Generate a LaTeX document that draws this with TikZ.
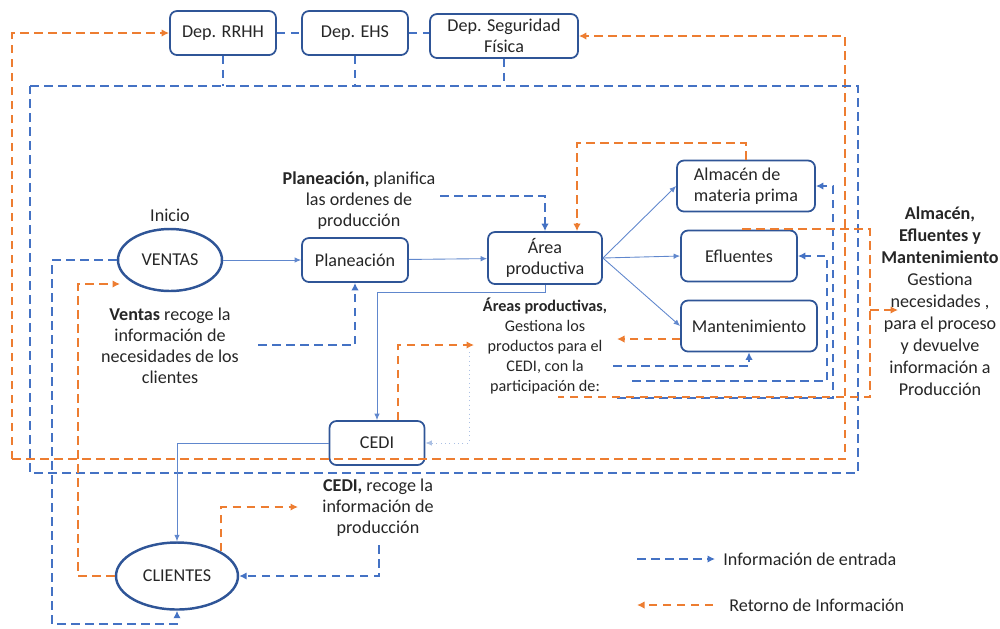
\documentclass[tikz,border=0pt]{standalone}
\usepackage{fontspec}
\setmainfont{Carlito}
\usetikzlibrary{arrows.meta,shapes.geometric}
\definecolor{azul}{HTML}{4472C4}
\definecolor{azulosc}{HTML}{2F5597}
\definecolor{naranja}{HTML}{ED7D31}
\definecolor{texto}{HTML}{262626}
\tikzset{
  caja/.style={draw=azulosc, line width=1pt, rounded corners=1.4mm, align=center,
    minimum height=8.8mm, inner sep=0.5mm, text=texto},
  elipse/.style={ellipse, draw=azulosc, line width=1.4pt, inner sep=0pt, text=texto},
  nota/.style={align=center, text=texto, inner sep=0pt},
  flujo/.style={azul!85, line width=0.5pt, -{Latex[length=1.3mm,width=1.1mm]}},
  entrada/.style={azul, line width=1.3pt, dash pattern=on 1.7mm off 1.1mm},
  retorno/.style={naranja, line width=1.3pt, dash pattern=on 1.7mm off 1.1mm},
  punta/.style={-{Latex[length=1.5mm,width=1.5mm]}},
}
\begin{document}
\begin{tikzpicture}[x=0.2mm, y=-0.2mm, font=\fontsize{10.3}{12}\selectfont]
  \useasboundingbox (0,0) rectangle (1000,628);
  % departamentos
  \node[caja, minimum width=21.2mm] (rrhh) at (223,33) {Dep. RRHH};
  \node[caja, minimum width=21.2mm] (ehs) at (355,33) {Dep. EHS};
  \node[caja, minimum width=29.6mm] (seguridad) at (504,36) {Dep. Seguridad\\Física};
  % flujo principal
  \node[elipse, minimum width=20.8mm, minimum height=12.4mm] (ventas) at (170,260) {VENTAS};
  \node[nota] (inicio) at (170,215) {Inicio};
  \node[caja, minimum width=21.2mm] (planeacion) at (355,260) {Planeación};
  \node[caja, minimum width=22.8mm, minimum height=10.4mm] (area) at (545,258) {Área\\productiva};
  \node[caja, minimum width=27.6mm, minimum height=10.2mm, align=left] (almacen) at (746,186) {Almacén de\\materia prima};
  \node[caja, minimum width=23.2mm, minimum height=10.2mm] (efluentes) at (739,256) {Efluentes};
  \node[caja, minimum width=27.2mm, minimum height=10.2mm] (manto) at (749,326) {Mantenimiento};
  \node[caja, minimum width=19mm] (cedi) at (377,443) {CEDI};
  \node[elipse, minimum width=24.4mm, minimum height=13.4mm] (clientes) at (177,576) {CLIENTES};
  % textos
  \node[nota] (txtplan) at (359,201) {\textbf{Planeación,} planifica\\las ordenes de\\producción};
  \node[nota] (txtventas) at (170,346) {\textbf{Ventas} recoge la\\información de\\necesidades de los\\clientes};
  \node[nota, font=\fontsize{9.2}{11.4}\selectfont] (txtarea) at (545,346) {\textbf{Áreas productivas,}\\Gestiona los\\productos para el\\CEDI, con la\\participación de:};
  \node[nota, font=\fontsize{10.3}{12.5}\selectfont] (txtalmacen) at (940,301) {\textbf{Almacén,}\\\textbf{Efluentes y}\\\textbf{Mantenimiento}\\Gestiona\\necesidades ,\\para el proceso\\y devuelve\\información a\\Producción};
  \node[nota] (txtcedi) at (378,508) {\textbf{CEDI,} recoge la\\información de\\producción};
  % leyenda
  \node[nota, anchor=west, inner xsep=1.6mm] (leyent) at (715,559) {Información de entrada};
  \node[nota, anchor=west] (leyret) at (729,605) {Retorno de Información};
  % puntos de paso
  \coordinate (azTL) at (30,86);
  \coordinate (azTR) at (858,86);
  \coordinate (azBR) at (858,473);
  \coordinate (azBL) at (30,473);
  \coordinate (naTL) at (12,33);
  \coordinate (naTR) at (845,36);
  \coordinate (naBR) at (845,459);
  \coordinate (naBL) at (12,459);
  \coordinate (codo) at (377,292);
  \coordinate (punteo) at (469,352);
  \coordinate (pl1) at (440,196);
  \coordinate (ve1) at (258,345);
  \coordinate (ve2) at (52,624);
  \coordinate (ce1) at (379,545);
  \coordinate (ce2) at (474,345);
  \coordinate (al1) at (617,398);
  \coordinate (al2) at (833,398);
  \coordinate (al3) at (577,143);
  \coordinate (ef1) at (632,381);
  \coordinate (ef2) at (827,381);
  \coordinate (ma1) at (613,366);
  \coordinate (ma2) at (617,339);
  \coordinate (br1) at (742,229);
  \coordinate (br2) at (870,229);
  \coordinate (br3) at (870,397);
  \coordinate (br4) at (558,397);
  \coordinate (br5) at (870,310);
  \coordinate (br6) at (898,310);
  \coordinate (cl1) at (78,284);
  \coordinate (cl2) at (120,284);
  \coordinate (cl3) at (298,507);
  \coordinate (le1) at (637,559);
  \coordinate (le3) at (637,605);
  \coordinate (le4) at (713,605);
  % lazos exteriores
  \draw[retorno, punta] (naBL) -- (naTL) -- (rrhh.west);
  \draw[retorno, punta] (naBL) -- (naBR) -- (naTR) -- (seguridad.east);
  \draw[entrada] (azTL) -- (azTR) -- (azBR) -- (azBL) -- cycle;
  \draw[entrada] (rrhh.east) -- (ehs.west);
  \draw[entrada] (ehs.east) -- (ehs.east -| seguridad.west);
  \draw[entrada] (rrhh.south) -- (rrhh.south |- azTL);
  \draw[entrada] (ehs.south) -- (ehs.south |- azTL);
  \draw[entrada] (seguridad.south) -- (seguridad.south |- azTL);
  % flujo de materiales
  \draw[flujo] (ventas) -- (planeacion);
  \draw[flujo] (planeacion) -- (area);
  \draw[flujo] (area.east) -- (almacen.west);
  \draw[flujo] (area.east) -- (efluentes.west);
  \draw[flujo] (area.east) -- (manto.west);
  \draw[flujo] (area.south) |- (codo) -- (cedi.north);
  \draw[flujo] (cedi.west) -| (clientes.north);
  \draw[flujo, azul!45, dotted] (punteo) |- (cedi.east);
  % informacion de entrada
  \draw[entrada, punta] (pl1) -| (area.north);
  \draw[entrada, punta] (ve1) -| (planeacion.south);
  \draw[entrada, punta] (ventas.west) -| (ve2) -| (clientes.south);
  \draw[entrada, punta] (ce1) |- (clientes.east);
  \draw[entrada, punta] (al1) -- (al2) |- (almacen.east);
  \draw[entrada, punta] (ef1) -- (ef2) |- (efluentes.east);
  \draw[entrada, punta] (ma1) -| (manto.south);
  % retorno de informacion
  \draw[retorno, punta] (almacen.north) |- (al3) -- (al3 |- area.north);
  \draw[retorno] (br1) -- (br2) -- (br3) -- (br4);
  \draw[retorno, punta] (br5) -- (br6);
  \draw[retorno, punta] (ma2 -| manto.west) -- (ma2);
  \draw[retorno, punta] ([xshift=4.2mm]cedi.north) |- (ce2);
  \draw[retorno, punta] (clientes.west) -| (cl1) -- (cl2);
  \draw[retorno, punta] (clientes.north east) |- (cl3);
  % leyenda
  \draw[entrada, punta] (le1) -- (leyent.west);
  \draw[retorno, punta] (le4) -- (le3);
\end{tikzpicture}
\end{document}
